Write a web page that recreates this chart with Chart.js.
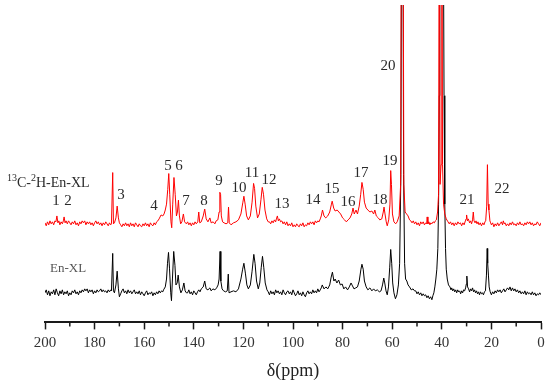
<!DOCTYPE html>
<html>
<head>
<meta charset="utf-8">
<script src="https://cdn.jsdelivr.net/npm/chart.js@4.4.1/dist/chart.umd.min.js"></script>
<style>
  body { margin: 0; background: #fff; }
</style>
</head>
<body>
<canvas id="nmrChart" width="550" height="386"></canvas>
<script>
// chemical shift (ppm) and intensity above each trace's own baseline
const labelledSpectrum = [
  [200, 1], [199.5, -2], [199, 2], [198.5, -1], [198, 3], [197.5, 0], [197, 2], [196.5, -1], [196, 3], [195.6, 2],
  [195.2, 8], [194.8, 1], [194.4, 3], [194, -1], [193.5, 2], [193, 0], [192.6, 3], [192.3, 7], [191.9, 1], [191.5, 3],
  [191, 0], [190.5, 3], [190, 1], [189.5, -1], [189, 2], [188.5, 0], [188, 3], [187.5, -1], [187, 1], [186.5, -2],
  [186, 2], [185.5, 0], [185, 3], [184.5, 1], [184, 3], [183.5, -1], [183, 2], [182.5, 0], [182, 2], [181.5, -1],
  [181, 1], [180.5, -2], [180, 1], [179.5, 3], [179, 0], [178.5, 2], [178, -1], [177.5, 1], [177, -2], [176.5, 1],
  [176, -1], [175.5, 2], [175, 0], [174.5, -2], [174, 1], [173.5, -1], [173.2, 0],
  [172.7, 52], [172.4, 0], [172, 1], [171.4, 6], [170.9, 18], [170.4, 6], [170, 1], [169.5, -1], [169, -3], [168.5, 0],
  [168, -2], [167.5, 1], [167, -2], [166.5, 0], [166, -3], [165.5, 1], [165, -2], [164.5, 0], [164, -3], [163.5, 1],
  [163, -1], [162.5, -3], [162, 0], [161.5, -2], [161, -3], [160.5, 0], [160, -2], [159.5, 1], [159, -2], [158.5, 0],
  [158, -3], [157.5, 1], [157, -1], [156.5, -2], [156, 1], [155.5, -1], [155, 2], [154.5, 3],
  [154, 5], [153.2, 9], [152.5, 8], [152, 10], [151.5, 14], [151, 20], [150.5, 35], [150.1, 51],
  [149.7, 30], [149.2, 2], [148.9, -4], [148.5, 20], [148, 47], [147.5, 30], [147, 8], [146.6, 12], [146.2, 24], [145.8, 8],
  [145.3, 0], [144.8, 2], [144.2, 10], [143.7, 2], [143, 0], [142.5, 2], [142, -1], [141.5, 1], [141, -2], [140.5, 1],
  [140, -1], [139.5, 2], [139, 0], [138.4, 2],
  [138, 12], [137.6, 1], [137, 2], [136.2, 8], [135.6, 15], [135, 5], [134.3, 2], [133.5, 6], [133, 1], [132.2, 2],
  [131.5, 0], [131, 3], [130.3, 4], [129.8, 12], [129.5, 32], [129.2, 30], [128.9, 8], [128.4, 2], [127.8, 1], [127, 0],
  [126.3, 1], [126, 17], [125.7, 1], [125, -1], [124, 1], [123, 2], [122, 4], [121, 10], [120.2, 22], [119.8, 28],
  [119.3, 20], [118.7, 8], [118, 4], [117.2, 8], [116.5, 22], [115.9, 41], [115.5, 36], [115, 18], [114.3, 6], [113.6, 10],
  [112.9, 25], [112.4, 37], [111.9, 30], [111.3, 14], [110.6, 5], [110, 2], [109.5, 2], [109, 0], [108.5, 3], [108, 1],
  [107.5, 4], [107, 2], [106.7, 5], [106.3, 8], [105.9, 3], [105.5, 5], [105, 2], [104.5, 3], [104, 0], [103.5, 2],
  [103, -1], [102.5, 2], [102, -2], [101.5, 0], [101, -2], [100.5, 1], [100, -3], [99.5, -1], [99, -3], [98.5, 0],
  [98, -2], [97.5, -3], [97, 0], [96.5, -2], [96, 1], [95.5, -3], [95, -1], [94.5, -2], [94, 1], [93.5, -1],
  [93, 2], [92.5, 0], [92, 2], [91.5, -1], [91, 3], [90.5, 1], [90, 3], [89.5, 2], [89, 5], [88.6, 8],
  [88.1, 14], [87.5, 8],
  [86.8, 6], [86, 8], [85.2, 12], [84.5, 20], [84.2, 23], [83.6, 16], [83, 13], [82.2, 14], [81.5, 12], [80.8, 10],
  [80, 6], [79.2, 4], [78.5, 2], [77.8, 4], [77, 6], [76.3, 10], [75.8, 16], [75.3, 10], [74.6, 14], [74, 10],
  [73.3, 18], [72.7, 30], [72.2, 42], [71.7, 35], [71.2, 22], [70.5, 16], [69.8, 14], [69, 12], [68.2, 13], [67.5, 10],
  [67, 14], [66.4, 8], [65.6, 6], [65, 4], [64.2, 5], [63.6, 12], [63.3, 17], [62.9, 10], [62.4, 2], [62, -2],
  [61.4, 4], [60.9, 20], [60.6, 54], [60.3, 40], [59.9, 10], [59.3, 2], [58.6, 0], [58, 2], [57.2, 8], [56.6, 40],
  [56.2, 400], [55.7, 400], [55.3, 40], [54.8, 12], [54.2, 10], [53.6, 8], [53, 4], [52.5, 3], [52, 1], [51.5, 3],
  [51, 0], [50.5, 2], [50, -1], [49.5, 1], [49, -2], [48.5, 2], [48, 0], [47.5, 2], [47, -1], [46.5, 1],
  [46.1, 0], [45.9, 7], [45.6, 0], [45.2, 2], [44.8, -1], [44.4, 1], [44, 0], [43.5, 2], [43, 1], [42.6, 3],
  [42.2, 4], [41.7, 12], [41.3, 30], [41.0, 400], [40.7, 40], [40.3, 60], [40.0, 400], [39.7, 60], [39.3, 20], [38.8, 10],
  [38.2, 5], [37.5, 2], [37, 0], [36.5, 2], [36, -1], [35.5, 1], [35, -2], [34.5, 1], [34, -1], [33.5, 2],
  [33, 0], [32.5, 1], [32, -2], [31.5, 1], [31, -1], [30.5, 3], [30.2, 5], [30, 9], [29.7, 3], [29.3, 5],
  [28.8, 1], [28.4, 3], [28, 0], [27.6, 4], [27.3, 12], [27, 3], [26.6, 1], [26.2, 3], [25.8, 0], [25.4, 2],
  [25, -1], [24.5, 1], [24, -2], [23.5, 1], [23, -1], [22.6, 2], [22.3, 3], [21.9, 18],
  [21.6, 60], [21.3, 20], [21.0, 14], [20.6, 3], [20.3, 1], [20, -1], [19.5, 1], [19, -3], [18.5, 0], [18, -2],
  [17.5, 1], [17, -2], [16.5, 0], [16, 2], [15.5, -1], [15.2, 3], [14.8, 0], [14.5, 1], [14, -2], [13.5, 0],
  [13, -2], [12.5, 1], [12, -1], [11.5, 2], [11, -1], [10.5, 0], [10, -2], [9.5, 1], [9, -1], [8.5, 2],
  [8, -1], [7.5, 0], [7, -2], [6.5, 1], [6, -1], [5.5, 2], [5, 0], [4.5, 2], [4, -1], [3.5, 1],
  [3, -2], [2.5, 0], [2, -1], [1.5, 2], [1, 0], [0.5, -2], [0, 1]
];

const plainSpectrum = [
  [200, 0], [199.5, 3], [199, -2], [198.5, 2], [198, -3], [197.5, 1], [197, -1], [196.5, 3], [196, -2], [195.5, 4],
  [195, 0], [194.5, -3], [194, 2], [193.5, -1], [193, 3], [192.5, -2], [192, 1], [191.5, -1], [191, 2], [190.5, -3],
  [190, 0], [189.5, -2], [189, 2], [188.5, 0], [188, 3], [187.5, -1], [187, 1], [186.5, -2], [186, 2], [185.5, 0],
  [185, 3], [184.5, 1], [184, 4], [183.5, 2], [183, 4], [182.5, 0], [182, 3], [181.5, 1], [181, 3], [180.5, -1],
  [180, 2], [179.5, 0], [179, 3], [178.5, 1], [178, 2], [177.5, 4], [177, 1], [176.5, 3], [176, 1], [175.5, 2],
  [175, 0], [174.5, 3], [174, 1], [173.5, 3], [173.2, 2], [172.7, 40], [172.4, 2],
  [172, 0], [171.4, 8], [170.9, 22], [170.4, 4], [170, -4], [169.5, -1], [169, 2], [168.5, 4], [168, 0], [167.5, 2],
  [167, -1], [166.5, 3], [166, 0], [165.5, 2], [165, -1], [164.5, 1], [164, 3], [163.5, -1], [163, 1], [162.5, -1],
  [162, 2], [161.5, -2], [161, 1], [160.5, -1], [160, -3], [159.5, 0], [159, 2], [158.5, -2], [158, 0], [157.5, -1],
  [157, 1], [156.5, -3], [156, 0], [155.5, -2], [155, 1], [154.5, -1], [154, 2], [153.5, 0], [153, 2], [152.5, 1],
  [152.2, 3], [151.5, 6], [151, 14], [150.6, 30], [150.2, 41], [149.8, 25], [149.3, 0],
  [149, -8], [148.6, 15], [148.1, 42], [147.6, 28], [147.2, 8], [146.7, 10], [146.3, 18], [145.8, 6], [145.2, 0], [144.6, 3],
  [144, 10], [143.5, 2], [143, 0], [142.5, 0], [142, 3], [141.5, -1], [141, 1], [140.5, -2], [140, 2], [139.5, 0],
  [139, -2], [138.5, 1], [138, 3], [137.5, 1], [137, 4], [136.2, 6],
  [135.6, 12], [135, 4], [134.3, 3], [133.5, 5], [133, 2], [132.3, 4], [131.5, 3], [130.8, 5], [130.2, 8], [129.8, 14],
  [129.4, 42], [129.1, 12], [128.6, 4], [128, 2], [127.2, 1], [126.5, 2], [126.1, 19], [125.8, 0], [125, 1], [124, 2],
  [123, 1], [122, 4], [121, 14], [120.3, 24], [119.8, 30], [119.2, 20], [118.6, 8], [118, 4], [117.2, 8], [116.5, 22],
  [115.8, 39], [115.3, 30], [114.7, 12], [114, 4], [113.4, 10], [112.8, 26], [112.3, 37], [111.8, 26], [111.2, 10], [110.5, 3],
  [110, 1], [109.5, -2], [109, 2], [108.5, -1], [108, 1], [107.5, -2], [107, 3], [106.5, 0], [106, 2], [105.5, -1],
  [105, 1], [104.5, -2], [104, 3], [103.5, 0], [103, -2], [102.5, 1], [102, 2], [101.5, -1], [101, 1], [100.5, -2],
  [100, 3], [99.5, 0], [99, -3], [98.5, -1], [98, 2], [97.5, -2], [97, 0], [96.5, -3], [96, 1], [95.5, -2],
  [95, -4], [94.5, 0], [94, 2], [93.5, -1], [93, 1], [92.5, -1], [92, 3], [91.5, 0], [91, 2], [90.5, 0],
  [90, 4], [89.5, 1], [89, 3], [88.6, 5], [88.2, 8], [87.5, 4], [86.7, 6], [86, 4], [85.2, 8], [84.6, 16], [84.1, 21], [83.5, 12],
  [83, 14], [82.3, 10], [81.6, 13], [80.9, 8], [80.2, 9], [79.5, 4], [78.8, 6], [78, 3], [77.3, 6], [76.6, 10],
  [76, 7], [75.4, 4], [74.7, 5], [74, 6], [73.3, 12], [72.6, 24], [72.2, 29], [71.7, 24], [71.2, 12], [70.5, 6],
  [69.8, 3], [69, 5], [68.2, 2], [67.5, 4], [66.8, 2], [66, 3], [65.2, 1], [64.5, 2], [63.9, 8], [63.4, 15],
  [63, 10], [62.5, 2], [62, -2], [61.5, 6], [61, 26], [60.6, 44], [60.2, 30], [59.8, 10], [59.3, 0], [58.7, -6],
  [58.1, -2], [57.5, 8], [57, 30], [56.5, 120], [56.2, 400], [55.7, 400], [55.4, 120], [55, 30], [54.6, 14], [54.1, 12],
  [53.6, 8], [53, 6], [52.3, 3], [51.6, 4], [51, 2], [50.5, 2], [50, -1], [49.5, 1], [49, -2], [48.5, 0],
  [48, -3], [47.5, -1], [47, -3], [46.5, -2], [46, -5], [45.5, -3], [45, -6], [44.5, -4], [44, -7], [43.6, -3],
  [43.2, 0], [42.8, 6], [42.4, 14], [42, 24],
  [41.6, 45], [41.3, 90], [41.0, 200], [40.8, 400], [39.4, 400], [39.1, 200], [38.8, 90], [38.5, 45], [38.2, 24], [37.8, 14],
  [37.3, 8], [36.7, 6], [36.3, 3], [36, 5], [35.6, 2], [35.2, 4], [34.8, 1], [34.4, 3], [34, 0], [33.6, 3],
  [33.2, 1], [32.8, 2], [32.4, -1], [32, 2], [31.6, 0], [31.2, 3], [30.8, 2], [30.4, 5], [30.1, 9], [29.9, 17],
  [29.6, 6], [29.2, 4], [28.8, 1], [28.4, 4], [28, 2], [27.6, 5], [27.2, 1], [26.8, 3], [26.4, 0], [26, 2],
  [25.6, -1], [25.2, 1], [24.8, -2], [24.4, 1], [24, -1], [23.6, 0], [23.2, -2], [22.8, 1], [22.4, 2], [22, 18],
  [21.7, 45], [21.5, 30], [21.2, 18], [20.9, 6], [20.5, 1], [20, -2], [19.5, 1], [19, -1], [18.5, 2], [18, 0],
  [17.5, 3], [17, 1], [16.5, 3], [16, 0], [15.5, 2], [15, 4], [14.5, 1], [14, 3], [13.5, 5], [13, 3],
  [12.5, 6], [12, 2], [11.5, 5], [11, 2], [10.5, 4], [10, 1], [9.5, 3], [9, 0], [8.5, 2], [8, -1],
  [7.5, 1], [7, -1], [6.5, 2], [6, -2], [5.5, 1], [5, -1], [4.5, 0], [4, -2], [3.5, 1], [3, -2],
  [2.5, 0], [2, -3], [1.5, -1], [1, -2], [0.5, 0], [0, -2]
];

const xTicks = [200, 180, 160, 140, 120, 100, 80, 60, 40, 20, 0];
const minorTicks = [190, 170, 150, 130, 110, 90, 70, 50, 30, 10];

// peak numbers and where they sit (ppm, height on the plot scale)
const peakNames = ['1', '2', '3', '4', '5', '6', '7', '8', '9', '10', '11',
  '12', '13', '14', '15', '16', '17', '18', '19', '20', '21', '22'];
const peakAnchors = [
  [195.6, 123], [190.7, 123], [169.4, 129], [156.0, 118], [150.4, 159], [146.0, 159], [143.1, 123],
  [135.9, 123], [129.8, 143], [121.8, 136], [116.5, 152], [109.7, 144], [104.4, 120], [91.9, 124],
  [84.3, 135], [77.8, 122], [72.6, 152], [64.9, 124], [60.9, 164], [61.7, 260], [29.8, 124], [15.7, 135]
];

const RED_OFFSET = 100;
const BLACK_OFFSET = 30;

function shifted(spec, off) {
  return spec.map(p => ({ x: p[0], y: p[1] + off }));
}

const annotatePlugin = {
  id: 'annotate',
  afterDraw(chart) {
    const ctx = chart.ctx;
    const xs = chart.scales.x;
    const ys = chart.scales.y;
    const area = chart.chartArea;
    ctx.save();

    // minor ticks
    ctx.strokeStyle = '#1a1a1a';
    ctx.lineWidth = 1.5;
    minorTicks.forEach(v => {
      const px = xs.getPixelForValue(v);
      ctx.beginPath();
      ctx.moveTo(px, area.bottom);
      ctx.lineTo(px, area.bottom + 4);
      ctx.stroke();
    });

    // peak numbers
    ctx.fillStyle = '#2a2a2a';
    ctx.font = '15px "Liberation Serif", serif';
    ctx.textAlign = 'center';
    ctx.textBaseline = 'middle';
    peakNames.forEach((name, i) => {
      const a = peakAnchors[i];
      ctx.fillText(name, xs.getPixelForValue(a[0]), ys.getPixelForValue(a[1]));
    });

    // trace names
    ctx.textAlign = 'left';
    ctx.textBaseline = 'alphabetic';
    let x = 7;
    const base = 187;
    const pieces = [['13', true], ['C-', false], ['2', true], ['H-En-XL', false]];
    pieces.forEach(p => {
      ctx.font = p[1] ? '10px "Liberation Serif", serif' : '14px "Liberation Serif", serif';
      ctx.fillText(p[0], x, p[1] ? base - 6 : base);
      x += ctx.measureText(p[0]).width;
    });
    ctx.fillStyle = '#555';
    ctx.font = '13px "Liberation Serif", serif';
    ctx.fillText('En-XL', 50, 272);
    ctx.restore();
  }
};

const ctx = document.getElementById('nmrChart').getContext('2d');
new Chart(ctx, {
  type: 'line',
  data: {
    datasets: [
      {
        label: '13C-2H-En-XL',
        data: shifted(labelledSpectrum, RED_OFFSET),
        borderColor: '#ff0000',
        borderWidth: 1,
        pointRadius: 0,
        tension: 0
      },
      {
        label: 'En-XL',
        data: shifted(plainSpectrum, BLACK_OFFSET),
        borderColor: '#000000',
        borderWidth: 1,
        pointRadius: 0,
        tension: 0
      }
    ]
  },
  options: {
    responsive: false,
    animation: false,
    layout: { padding: { left: 45, right: 9, top: 5, bottom: 2 } },
    plugins: {
      legend: { display: false },
      tooltip: { enabled: false }
    },
    scales: {
      x: {
        type: 'linear',
        reverse: true,
        min: 0,
        max: 200,
        afterBuildTicks: (scale) => {
          scale.ticks = xTicks.map(v => ({ value: v }));
        },
        ticks: {
          color: '#333',
          padding: 5,
          font: { family: '"Liberation Serif", serif', size: 15 }
        },
        grid: {
          drawOnChartArea: false,
          drawTicks: true,
          tickLength: 7,
          tickColor: '#1a1a1a',
          tickWidth: 1.5
        },
        border: { display: true, color: '#1a1a1a', width: 2 },
        title: {
          display: true,
          text: 'δ(ppm)',
          color: '#222',
          padding: { top: 3, bottom: 2 },
          font: { family: '"Liberation Serif", serif', size: 18 }
        }
      },
      y: {
        display: false,
        min: 0,
        max: 322
      }
    }
  },
  plugins: [annotatePlugin]
});
</script>
</body>
</html>
